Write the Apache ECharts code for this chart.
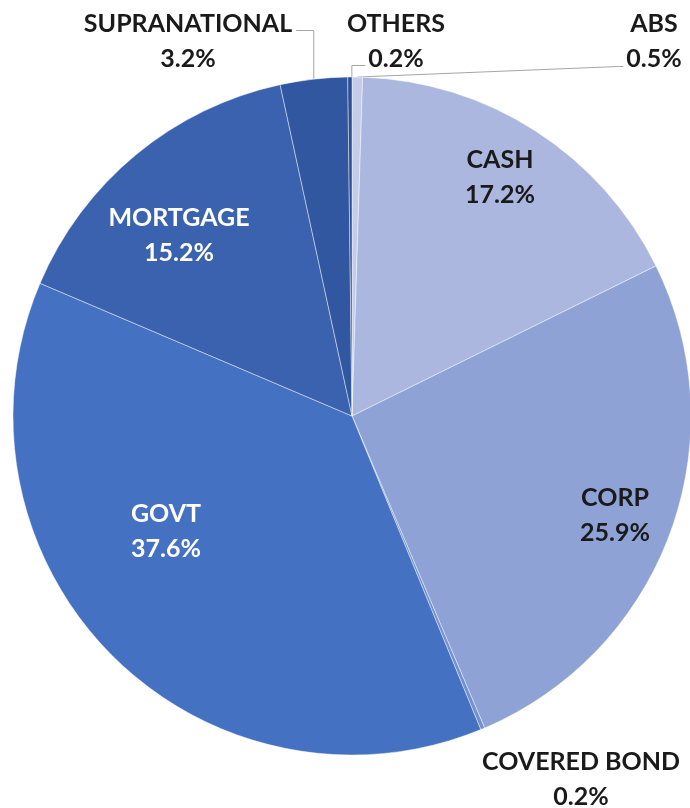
<!DOCTYPE html>
<html>
<head>
<meta charset="utf-8">
<script src="https://cdn.jsdelivr.net/npm/echarts@6/dist/echarts.min.js"></script>
<style>
  html, body { margin: 0; padding: 0; background: #ffffff; }
  #chart { width: 690px; height: 808px; }
</style>
</head>
<body>
<div id="chart"></div>
<script>
// Portfolio allocation by sector (%), clockwise from 12 o'clock
const categories = ['ABS', 'CASH', 'CORP', 'COVERED BOND', 'GOVT', 'MORTGAGE', 'SUPRANATIONAL', 'OTHERS'];
const shares = [0.5, 17.2, 25.9, 0.2, 37.6, 15.2, 3.2, 0.2];

// Slice fills, light to dark blue
const sliceColors = {
  'ABS': '#c4cce8',
  'CASH': '#abb7de',
  'CORP': '#8fa2d5',
  'COVERED BOND': '#7390cf',
  'GOVT': '#4471c1',
  'MORTGAGE': '#3a62ae',
  'SUPRANATIONAL': '#30579f',
  'OTHERS': '#2b4f92'
};

// Label text colour per slice (white on the dark slices)
const labelColors = {
  'GOVT': '#ffffff',
  'MORTGAGE': '#ffffff'
};

// Label block centres in px
const labelSpots = {
  'ABS': [654, 41],
  'CASH': [500, 177],
  'CORP': [615, 515],
  'COVERED BOND': [581, 779],
  'GOVT': [166, 531],
  'MORTGAGE': [179, 235],
  'SUPRANATIONAL': [188, 41],
  'OTHERS': [396, 41]
};
// Leader style: 'up-left' runs up from the slice then left to the label's first line,
// 'up-right' runs up then right to the second line, 'slope' runs straight to the second line
const leaderStyle = {
  'SUPRANATIONAL': 'up-left',
  'OTHERS': 'up-right',
  'ABS': 'slope'
};

const FONT_SIZE = 25;
const LINE_H = 35;
const FONT = 'bold ' + FONT_SIZE + 'px Lato';
const fmtValue = v => v.toFixed(1) + '%';

const measureCtx = document.createElement('canvas').getContext('2d');
function textWidth(str) {
  measureCtx.font = FONT;
  return measureCtx.measureText(str).width;
}

const chart = echarts.init(document.getElementById('chart'), null, { renderer: 'canvas' });

const seriesData = categories.map((name, i) => ({
  name: name,
  value: shares[i],
  itemStyle: { color: sliceColors[name] },
  label: { color: labelColors[name] || '#1a1a1a' },
  labelLine: { show: !!leaderStyle[name] }
}));

chart.setOption({
  animation: false,
  backgroundColor: '#ffffff',
  series: [{
    type: 'pie',
    center: [352, 416],
    radius: 339,
    startAngle: 90,
    clockwise: true,
    avoidLabelOverlap: false,
    silent: true,
    itemStyle: {
      borderColor: 'rgba(255,255,255,0.55)',
      borderWidth: 0.8
    },
    label: {
      show: true,
      position: 'outside',
      fontFamily: 'Lato',
      fontWeight: 'bold',
      fontSize: FONT_SIZE,
      lineHeight: LINE_H,
      align: 'center',
      formatter: p => p.name + '\n' + fmtValue(p.value)
    },
    labelLine: {
      length: 8,
      length2: 6,
      smooth: false,
      lineStyle: { color: '#a6a6a6', width: 1 }
    },
    labelLayout: function (params) {
      const name = categories[params.dataIndex];
      const spot = labelSpots[name];
      const out = {
        x: spot[0],
        y: spot[1],
        align: 'center',
        verticalAlign: 'middle'
      };
      const style = leaderStyle[name];
      const pts = params.labelLinePoints;
      if (style && pts && pts.length) {
        const anchor = pts[0];
        const line1Y = spot[1] - LINE_H / 2 + 7;
        const line2Y = spot[1] + LINE_H / 2 + 8;
        if (style === 'up-left') {
          const right = spot[0] + textWidth(name) / 2 + 4;
          out.labelLinePoints = [anchor, [anchor[0], line1Y], [right, line1Y]];
        } else if (style === 'up-right') {
          const left = spot[0] - textWidth(fmtValue(shares[params.dataIndex])) / 2 - 3;
          out.labelLinePoints = [[anchor[0] + 2, anchor[1]], [anchor[0] + 2, line2Y - 1], [left, line2Y - 1]];
        } else {
          const left = spot[0] - textWidth(fmtValue(shares[params.dataIndex])) / 2 - 3;
          out.labelLinePoints = [anchor, [left - 5, line2Y], [left, line2Y]];
        }
      }
      return out;
    },
    data: seriesData
  }]
});
</script>
</body>
</html>
